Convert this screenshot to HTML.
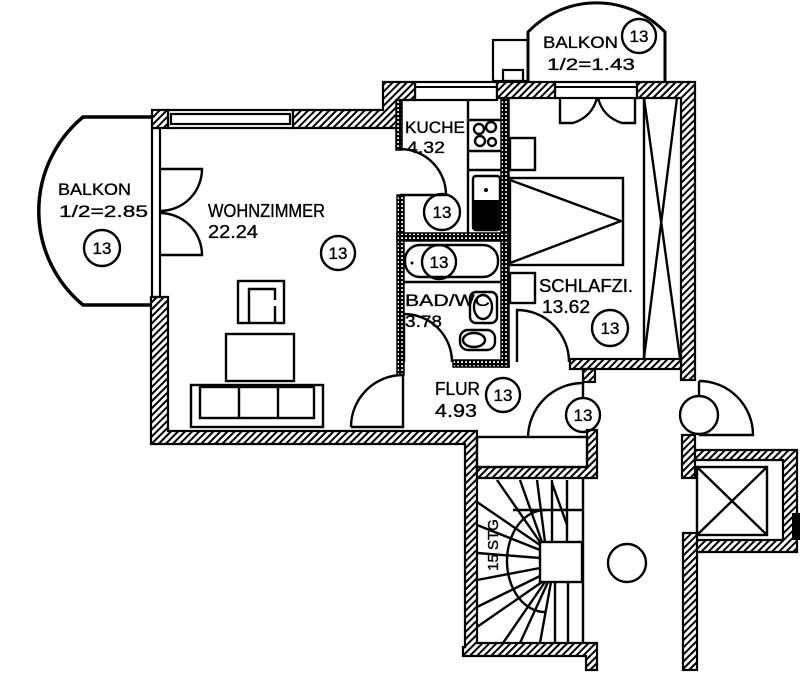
<!DOCTYPE html>
<html><head><meta charset="utf-8"><style>
html,body{margin:0;padding:0;background:#fff;}
svg{display:block;}
text{font-family:"Liberation Sans",sans-serif;fill:#000;stroke:#000;stroke-width:0.35;}
</style></head><body>
<svg width="800" height="677" viewBox="0 0 800 677" xmlns="http://www.w3.org/2000/svg">
<defs>
<pattern id="h" width="5" height="5" patternUnits="userSpaceOnUse" patternTransform="rotate(45)"><rect width="5" height="5" fill="#fff"/><rect width="2" height="5" fill="#000"/></pattern>
<pattern id="d" width="4" height="4" patternUnits="userSpaceOnUse"><rect width="4" height="4" fill="#000"/><rect x="1.2" y="1.2" width="1.8" height="1.8" fill="#fff"/></pattern>
</defs>
<rect width="800" height="677" fill="#fff"/>

<!-- balconies -->
<path d="M152,117 H83 A122 122 0 0 0 83,305 H152" fill="none" stroke="#000" stroke-width="3.5"/>
<path d="M528,81 V32 A95 95 0 0 1 665,32 V81" fill="none" stroke="#000" stroke-width="3"/>
<rect x="493" y="40" width="35" height="41" fill="none" stroke="#000" stroke-width="2.2"/>
<rect x="503" y="70" width="20" height="11" fill="none" stroke="#000" stroke-width="2.2"/>

<!-- windows -->
<g fill="#fff" stroke="#000" stroke-width="2.2">
<rect x="168" y="110" width="125" height="18"/>
<rect x="171" y="114" width="119" height="10"/>
<rect x="415" y="82" width="82" height="18"/>
<rect x="555" y="82" width="82" height="16"/>
<rect x="152" y="128" width="8" height="169"/>
</g>
<line x1="415" y1="87" x2="497" y2="87" stroke="#000" stroke-width="2"/>
<line x1="555" y1="87" x2="637" y2="87" stroke="#000" stroke-width="2"/>

<!-- hatched walls -->
<g fill="url(#h)" stroke="#000" stroke-width="2.2">
<polygon points="293,110 383,110 383,82 415,82 415,100 400,100 400,128 293,128"/>
<rect x="152" y="110" width="16" height="18"/>
<rect x="497" y="82" width="58" height="16"/>
<polygon points="637,82 695,82 695,380 681,380 681,98 637,98"/>
<rect x="570" y="359" width="111" height="10"/>
<rect x="583" y="369" width="12" height="13"/>
<polygon points="151,297 168,297 168,431 477,431 477,643 597,643 597,670 586,670 586,656 463,656 463,647 465,647 465,444 151,444"/>
<polygon points="477,467 587,467 587,430 597,430 597,478 477,478"/>
<rect x="682" y="435" width="13" height="43"/>
<polygon points="695,450 797,450 797,552 695,552 695,540 783,540 783,460 695,460"/>
<rect x="683" y="533" width="14" height="137"/>
</g>
<rect x="792" y="513" width="8" height="27" fill="#000"/>

<!-- dotted partitions -->
<g fill="url(#d)" stroke="#000" stroke-width="1.5">
<rect x="501" y="98" width="8" height="269"/>
<rect x="396" y="100" width="6" height="50"/>
<rect x="397" y="195" width="7" height="180"/>
<rect x="397" y="233" width="112" height="8"/>
<rect x="453" y="360" width="56" height="7"/>
</g>

<g fill="none" stroke="#000" stroke-width="2.4">
<!-- doors -->
<path d="M160,169 H202 A42 42 0 0 1 160,211"/>
<path d="M160,255 H202 A42 42 0 0 0 160,213"/>
<path d="M400,195 H446 A46 46 0 0 0 400,149"/>
<path d="M404,362 V314 A48 48 0 0 1 452,362"/>
<path d="M351,427 H403 V375 A52 52 0 0 0 351,427"/>
<path d="M517,362 V310 A52 52 0 0 1 569,362"/>
<path d="M583,383 A55 55 0 0 0 528,438"/>
<line x1="583" y1="383" x2="583" y2="398"/>
<path d="M699,381 A54 54 0 0 1 753,435 H699"/>
<line x1="699" y1="381" x2="699" y2="396"/>
<circle cx="699" cy="415" r="19"/>
<path d="M560,98 V123 H573 Q592,117 597,98"/>
<path d="M635,98 V123 H622 Q603,117 598,98"/>

<!-- living furniture -->
<rect x="238" y="281" width="46" height="42"/>
<path d="M249,322 V289 H275 V300 M275,306 V322"/>
<rect x="226" y="334" width="68" height="47"/>
<rect x="191" y="385" width="132" height="42"/>
<rect x="200" y="387" width="114" height="31"/>
<line x1="239" y1="387" x2="239" y2="418"/>
<line x1="278" y1="387" x2="278" y2="418"/>

<!-- kitchen -->
<line x1="468" y1="100" x2="468" y2="233"/>
<line x1="468" y1="120" x2="501" y2="120"/>
<line x1="468" y1="151" x2="501" y2="151"/>
<line x1="468" y1="170" x2="501" y2="170"/>
<circle cx="479" cy="129" r="5"/><circle cx="491" cy="127" r="5"/>
<circle cx="480" cy="141" r="5"/><circle cx="492" cy="142" r="4"/>
<rect x="473" y="176" width="27" height="54" rx="3"/>

<!-- bath -->
<rect x="405" y="245" width="93" height="32" rx="15"/>
<line x1="404" y1="282" x2="501" y2="282"/>
<rect x="470" y="292" width="27" height="31" rx="6"/>
<ellipse cx="483" cy="307" rx="9" ry="12"/>
<rect x="460" y="330" width="35" height="20" rx="8"/>
<ellipse cx="474" cy="340" rx="11" ry="7"/>

<!-- bedroom -->
<rect x="510" y="138" width="25" height="32"/>
<rect x="510" y="273" width="25" height="30"/>
<rect x="510" y="178" width="113" height="87"/>
<path d="M510,180 L621,221 L510,263"/>
<line x1="644" y1="98" x2="644" y2="358"/>
<line x1="644" y1="98" x2="680" y2="358"/>
<line x1="677" y1="98" x2="644" y2="358"/>

<!-- lift -->
<rect x="697" y="467" width="70" height="68"/>
<line x1="697" y1="467" x2="767" y2="535"/>
<line x1="767" y1="467" x2="697" y2="535"/>

<!-- stairs -->
<rect x="477" y="437" width="110" height="30" fill="#fff"/>
<line x1="583" y1="478" x2="583" y2="643"/>
<rect x="540" y="542" width="42" height="40"/>
<line x1="552" y1="480" x2="552" y2="542"/>
<line x1="567" y1="480" x2="567" y2="542"/>
<line x1="555" y1="582" x2="555" y2="643"/>
<line x1="568" y1="582" x2="568" y2="643"/>
<line x1="513" y1="510" x2="583" y2="510"/>
<line x1="552" y1="483" x2="567" y2="525"/>
<line x1="497" y1="480" x2="540" y2="542"/>
<line x1="520" y1="480" x2="542" y2="542"/>
<line x1="537" y1="480" x2="545" y2="542"/>
<line x1="477" y1="502" x2="540" y2="545"/>
<line x1="477" y1="525" x2="540" y2="550"/>
<line x1="477" y1="553" x2="540" y2="558"/>
<line x1="477" y1="580" x2="540" y2="568"/>
<line x1="477" y1="607" x2="540" y2="576"/>
<line x1="477" y1="627" x2="542" y2="582"/>
<line x1="503" y1="643" x2="545" y2="582"/>
<line x1="520" y1="643" x2="548" y2="582"/>
<line x1="540" y1="643" x2="551" y2="582"/>
<path d="M545,510 A38 51 0 0 0 545,612"/>
<circle cx="627" cy="563" r="19"/>

<!-- number circles -->
<circle cx="102" cy="248" r="18"/>
<circle cx="338" cy="253" r="17"/>
<circle cx="442" cy="212" r="18"/>
<circle cx="639" cy="36" r="17"/>
<circle cx="439" cy="262" r="17"/>
<circle cx="610" cy="328" r="18"/>
<circle cx="503" cy="395" r="17"/>
<circle cx="583" cy="415" r="17"/>
</g>
<rect x="473" y="200" width="27" height="30" fill="#000"/>
<circle cx="486" cy="190" r="2" fill="#000"/>
<circle cx="412" cy="263" r="1.5" fill="#000"/>

<!-- labels -->
<g font-size="17">
<text x="58" y="195" textLength="73" lengthAdjust="spacingAndGlyphs">BALKON</text>
<text x="59" y="217" textLength="89" lengthAdjust="spacingAndGlyphs">1/2=2.85</text>
<text x="208" y="217" font-size="18" textLength="117" lengthAdjust="spacingAndGlyphs">WOHNZIMMER</text>
<text x="208" y="238" font-size="18" textLength="50" lengthAdjust="spacingAndGlyphs">22.24</text>
<text x="405" y="133" textLength="60" lengthAdjust="spacingAndGlyphs">KUCHE</text>
<text x="407" y="153" textLength="38" lengthAdjust="spacingAndGlyphs">4.32</text>
<text x="543" y="48" textLength="75" lengthAdjust="spacingAndGlyphs">BALKON</text>
<text x="547" y="70" textLength="88" lengthAdjust="spacingAndGlyphs">1/2=1.43</text>
<text x="405" y="306" textLength="85" lengthAdjust="spacingAndGlyphs">BAD/WC</text>
<text x="405" y="327" textLength="37" lengthAdjust="spacingAndGlyphs">3.78</text>
<text x="539" y="292" font-size="18" textLength="94" lengthAdjust="spacingAndGlyphs">SCHLAFZI.</text>
<text x="542" y="313" font-size="18" textLength="48" lengthAdjust="spacingAndGlyphs">13.62</text>
<text x="435" y="395" font-size="18" textLength="45" lengthAdjust="spacingAndGlyphs">FLUR</text>
<text x="435" y="417" font-size="18" textLength="42" lengthAdjust="spacingAndGlyphs">4.93</text>
<text x="493" y="550" font-size="15" text-anchor="middle" transform="rotate(-90 493 545)">15 STG</text>
</g>
<g font-size="17" text-anchor="middle">
<text x="102" y="254">13</text>
<text x="338" y="259">13</text>
<text x="442" y="218">13</text>
<text x="639" y="42">13</text>
<text x="439" y="268">13</text>
<text x="610" y="334">13</text>
<text x="503" y="401">13</text>
<text x="583" y="421">13</text>
</g>
</svg>
</body></html>
